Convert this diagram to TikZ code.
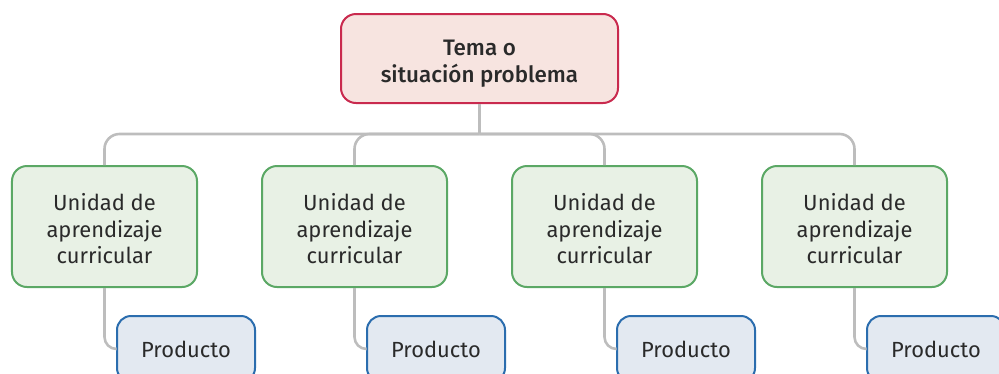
\documentclass[tikz,border=0pt]{standalone}
\usepackage{fontspec}
\setmainfont{Fira Sans}
\newfontfamily\medfont{Fira Sans Medium}
\definecolor{topfill}{HTML}{F7E4E0}
\definecolor{topdraw}{HTML}{C92A4E}
\definecolor{grfill}{HTML}{E8F1E5}
\definecolor{grdraw}{HTML}{5BA865}
\definecolor{blfill}{HTML}{E3E9F1}
\definecolor{bldraw}{HTML}{2B6DAE}
\definecolor{linec}{HTML}{BDBDBD}
\definecolor{txt}{HTML}{2A2A2A}
\tikzset{
  topbox/.style={draw=topdraw, fill=topfill, line width=2bp, rounded corners=15bp,
    minimum width=277bp, minimum height=89bp, inner sep=0pt, align=center,
    text=txt, font=\medfont\fontsize{22.5}{27}\selectfont},
  unitbox/.style={draw=grdraw, fill=grfill, line width=2bp, rounded corners=15bp,
    minimum width=185bp, minimum height=121bp, inner sep=0pt, align=center,
    text=txt, font=\fontsize{22}{26.5}\selectfont},
  prodbox/.style={draw=bldraw, fill=blfill, line width=2bp, rounded corners=14bp,
    minimum width=138bp, minimum height=66bp, inner sep=0pt, align=center,
    text=txt, font=\fontsize{22}{26.5}\selectfont},
  conn/.style={draw=linec, line width=2.6bp}
}
\begin{document}
\begin{tikzpicture}[x=1bp,y=-1bp]
\useasboundingbox (0,0) rectangle (999,373);
\clip (0,0) rectangle (999,373);
\node[topbox] (top) at (479.5,58.5) {\rule{0pt}{25bp}Tema o\\situación problema};
\coordinate (bus) at (479.5,134);
\foreach \i/\x in {1/104.5,2/354.5,3/604.5,4/854.5}{
  \node[unitbox] (u\i) at (\x,226.5) {\rule{0pt}{22bp}Unidad de\\aprendizaje\\curricular};
  \node[prodbox] (p\i) at (\x+81.5,349) {Producto};
}
\draw[conn] (top.south) -- (bus);
\foreach \i in {1,2,3,4}{
  \draw[conn, rounded corners=15bp] (bus) -| (u\i.north);
  \draw[conn, rounded corners=12bp] (u\i.south) |- (p\i.west);
}
\end{tikzpicture}
\end{document}
